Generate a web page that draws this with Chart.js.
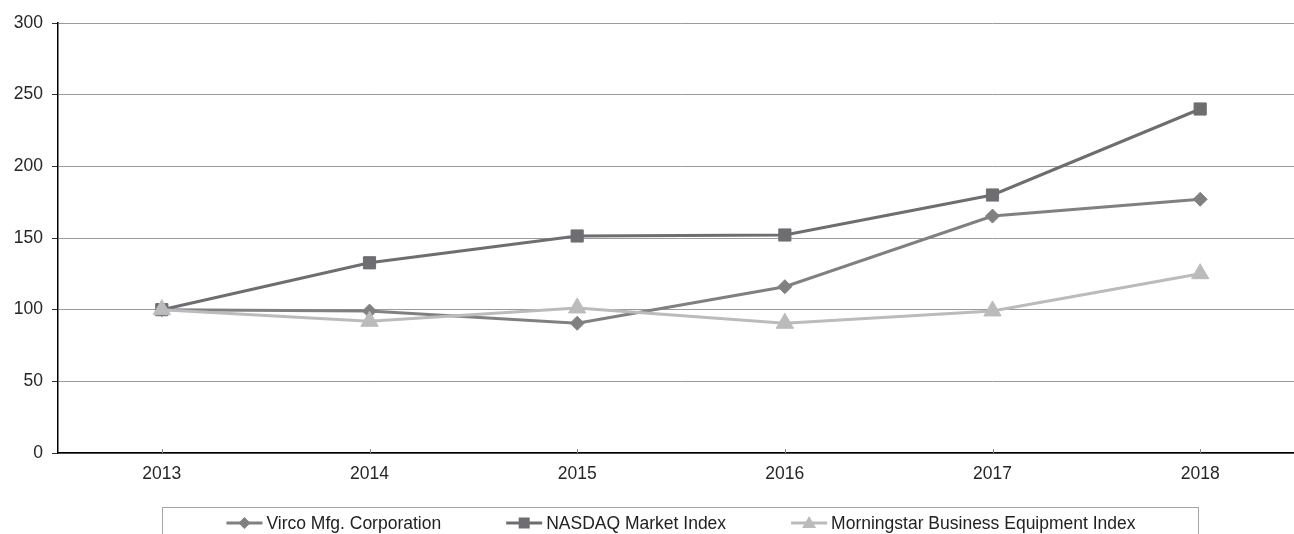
<!DOCTYPE html>
<html>
<head>
<meta charset="utf-8">
<script src="https://cdn.jsdelivr.net/npm/chart.js@4.4.1/dist/chart.umd.min.js"></script>
<style>
  html, body { margin: 0; padding: 0; background: #fff; overflow: hidden; width: 1294px; height: 534px; }
  #wrap { position: absolute; left: 0; top: 0; width: 1315px; height: 534px; }
</style>
</head>
<body>
<div id="wrap"><canvas id="c" width="1315" height="534"></canvas></div>
<script>
const years = ['2013', '2014', '2015', '2016', '2017', '2018'];
const virco = [100, 99, 90.5, 116, 165.3, 177];
const nasdaq = [100, 132.7, 151.4, 152.1, 180, 240];
const morningstar = [100, 91.9, 101.2, 90.5, 99.1, 125.1];
const yTicks = [0, 50, 100, 150, 200, 250, 300];

const seriesNames = ['Virco Mfg. Corporation', 'NASDAQ Market Index', 'Morningstar Business Equipment Index'];
const seriesColors = ['#808083', '#6e6e72', '#bbbbbd'];
const seriesMarkers = ['rectRot', 'rect', 'triangle'];
const seriesRadius = [7, 8.6, 10];

const FONT = "'Liberation Sans', Arial, sans-serif";

const insideTicks = {
  id: 'insideTicks',
  afterDatasetsDraw(chart) {
    const ctx = chart.ctx;
    const xs = chart.scales.x;
    const bottom = chart.chartArea.bottom;
    ctx.save();
    ctx.strokeStyle = '#888';
    ctx.lineWidth = 1;
    xs.ticks.forEach((t, i) => {
      const px = Math.round(xs.getPixelForTick(i)) + 0.5;
      ctx.beginPath();
      ctx.moveTo(px, bottom);
      ctx.lineTo(px, bottom - 4);
      ctx.stroke();
    });
    ctx.restore();
  }
};

const boxLegend = {
  id: 'boxLegend',
  afterDraw(chart) {
    const ctx = chart.ctx;
    const ca = chart.chartArea;
    const cx = (ca.left + ca.right) / 2;
    ctx.save();
    ctx.font = '17.5px ' + FONT;
    const lineLen = 36, gapText = 4, gapItem = 65;
    const widths = seriesNames.map(n => ctx.measureText(n).width);
    let total = 0;
    widths.forEach((w, i) => { total += lineLen + gapText + w + (i < widths.length - 1 ? gapItem : 0); });
    ctx.strokeStyle = '#a6a6a6';
    ctx.lineWidth = 1;
    ctx.strokeRect(162.5, 507.5, 1036, 40);
    let x = cx - total / 2;
    const y = 523;
    seriesNames.forEach((name, i) => {
      ctx.strokeStyle = seriesColors[i];
      ctx.fillStyle = seriesColors[i];
      ctx.lineWidth = 3;
      ctx.beginPath();
      ctx.moveTo(x, y);
      ctx.lineTo(x + lineLen, y);
      ctx.stroke();
      const mx = x + lineLen / 2;
      ctx.beginPath();
      if (seriesMarkers[i] === 'rect') {
        ctx.rect(mx - 5.5, y - 5.5, 11, 11);
      } else if (seriesMarkers[i] === 'rectRot') {
        ctx.moveTo(mx, y - 6); ctx.lineTo(mx + 6, y); ctx.lineTo(mx, y + 6); ctx.lineTo(mx - 6, y); ctx.closePath();
      } else {
        ctx.moveTo(mx, y - 7); ctx.lineTo(mx + 7, y + 5); ctx.lineTo(mx - 7, y + 5); ctx.closePath();
      }
      ctx.fill();
      ctx.fillStyle = '#222';
      ctx.textBaseline = 'middle';
      ctx.textAlign = 'left';
      ctx.fillText(name, x + lineLen + gapText, y + 1);
      x += lineLen + gapText + widths[i] + gapItem;
    });
    ctx.restore();
  }
};

const datasets = [virco, nasdaq, morningstar].map((arr, i) => ({
  label: seriesNames[i],
  data: arr,
  borderColor: seriesColors[i],
  backgroundColor: seriesColors[i],
  borderWidth: 3,
  pointStyle: seriesMarkers[i],
  pointRadius: seriesRadius[i],
  pointBorderWidth: 1,
  pointBackgroundColor: seriesColors[i],
  pointBorderColor: seriesColors[i],
  tension: 0,
  order: 3 - i
}));

new Chart(document.getElementById('c'), {
  type: 'line',
  data: { labels: years, datasets },
  options: {
    responsive: false,
    animation: false,
    devicePixelRatio: 1,
    layout: { padding: { left: 0, right: 6, top: 23, bottom: 0 } },
    plugins: { legend: { display: false }, tooltip: { enabled: false } },
    scales: {
      x: {
        offset: true,
        grid: { display: true, drawOnChartArea: false, drawTicks: false, offset: false },
        border: { display: true, color: '#000', width: 1.5 },
        ticks: { color: '#262626', font: { family: FONT, size: 17.5 }, padding: 11, maxRotation: 0 },
        afterFit(scale) { scale.height = 81; }
      },
      y: {
        min: 0, max: 300,
        afterBuildTicks(scale) { scale.ticks = yTicks.map(v => ({ value: v })); },
        grid: { color: '#9a9a9a', lineWidth: 1, tickLength: 6, tickColor: '#333' },
        border: { display: true, color: '#000', width: 1.5 },
        ticks: { color: '#262626', font: { family: FONT, size: 17.5 }, padding: 9 },
        afterFit(scale) { scale.width = 58; }
      }
    }
  },
  plugins: [insideTicks, boxLegend]
});
</script>
</body>
</html>
